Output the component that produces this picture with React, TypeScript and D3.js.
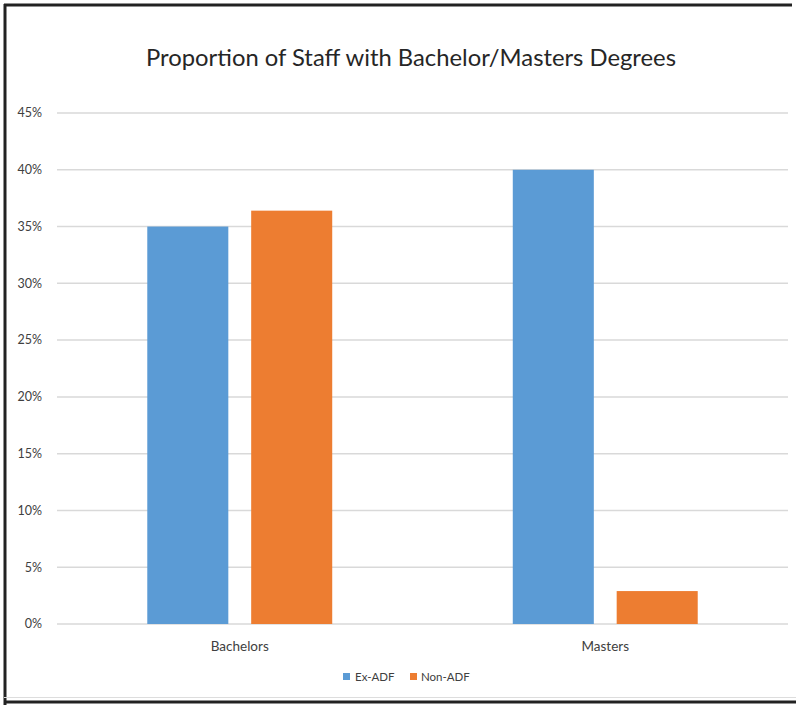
import React from "react";
import * as d3 from "d3";

const categories = ["Bachelors", "Masters"];
const seriesNames = ["Ex-ADF", "Non-ADF"];
const exAdf = [0.35, 0.4];
const nonAdf = [0.364, 0.029];
const yTicks = [0, 0.05, 0.1, 0.15, 0.2, 0.25, 0.3, 0.35, 0.4, 0.45];
const seriesColors = ["#5B9BD5", "#ED7D31"];

const W = 796;
const H = 705;
const plot = { left: 57, right: 788, top: 113, bottom: 624 };
const FONT = "Lato, 'Open Sans', sans-serif";

export default function App() {
  const seriesValues = [exAdf, nonAdf];

  const y = d3.scaleLinear().domain([0, 0.45]).range([plot.bottom, plot.top]);
  const x0 = d3
    .scaleBand<string>()
    .domain(categories)
    .range([plot.left, plot.right])
    .paddingInner(0.494)
    .paddingOuter(0.247);
  const x1 = d3
    .scaleBand<string>()
    .domain(seriesNames)
    .range([0, x0.bandwidth()])
    .paddingInner(0.22)
    .paddingOuter(0);
  const fmt = d3.format(".0%");

  const legendItems = [
    { name: seriesNames[0], color: seriesColors[0], sx: 343, tx: 355 },
    { name: seriesNames[1], color: seriesColors[1], sx: 410, tx: 421 },
  ];

  return (
    <svg
      width={W}
      height={H}
      style={{ position: "absolute", left: 0, top: 0, background: "#fff" }}
    >
      <rect x={0} y={0} width={W} height={H} fill="#fff" />

      {/* frame */}
      <line x1={5} y1={4} x2={5} y2={705} stroke="#222" strokeWidth={3} />
      <line x1={4} y1={5} x2={792} y2={5} stroke="#222" strokeWidth={3} />
      <line x1={4} y1={697.5} x2={796} y2={697.5} stroke="#ddd" strokeWidth={1} />
      <line x1={4} y1={702} x2={796} y2={702} stroke="#222" strokeWidth={3} />

      <text
        x={411}
        y={66}
        textAnchor="middle"
        fontFamily={FONT}
        fontSize={23.8}
        fill="#262626"
      >
        Proportion of Staff with Bachelor/Masters Degrees
      </text>

      {/* gridlines and y labels */}
      {yTicks.map((t) => (
        <g key={t}>
          <line
            x1={plot.left}
            x2={plot.right}
            y1={y(t)}
            y2={y(t)}
            stroke="#D9D9D9"
            strokeWidth={1.5}
          />
          <text
            x={42}
            y={y(t)}
            dy="0.35em"
            textAnchor="end"
            fontFamily={FONT}
            fontSize={12.5}
            fill="#404040"
          >
            {fmt(t)}
          </text>
        </g>
      ))}

      {/* bars */}
      {categories.map((c, ci) => (
        <g key={c} transform={`translate(${x0(c)},0)`}>
          {seriesNames.map((s, si) => {
            const v = seriesValues[si][ci];
            return (
              <rect
                key={s}
                x={x1(s)}
                y={y(v)}
                width={x1.bandwidth()}
                height={y(0) - y(v)}
                fill={seriesColors[si]}
              />
            );
          })}
          <text
            x={x0.bandwidth() / 2}
            y={651}
            textAnchor="middle"
            fontFamily={FONT}
            fontSize={13.5}
            fill="#404040"
          >
            {c}
          </text>
        </g>
      ))}

      {/* legend */}
      {legendItems.map((l) => (
        <g key={l.name}>
          <rect x={l.sx} y={673} width={7} height={7} fill={l.color} />
          <text
            x={l.tx}
            y={676.5}
            dy="0.35em"
            fontFamily={FONT}
            fontSize={11.5}
            fill="#404040"
          >
            {l.name}
          </text>
        </g>
      ))}
    </svg>
  );
}
